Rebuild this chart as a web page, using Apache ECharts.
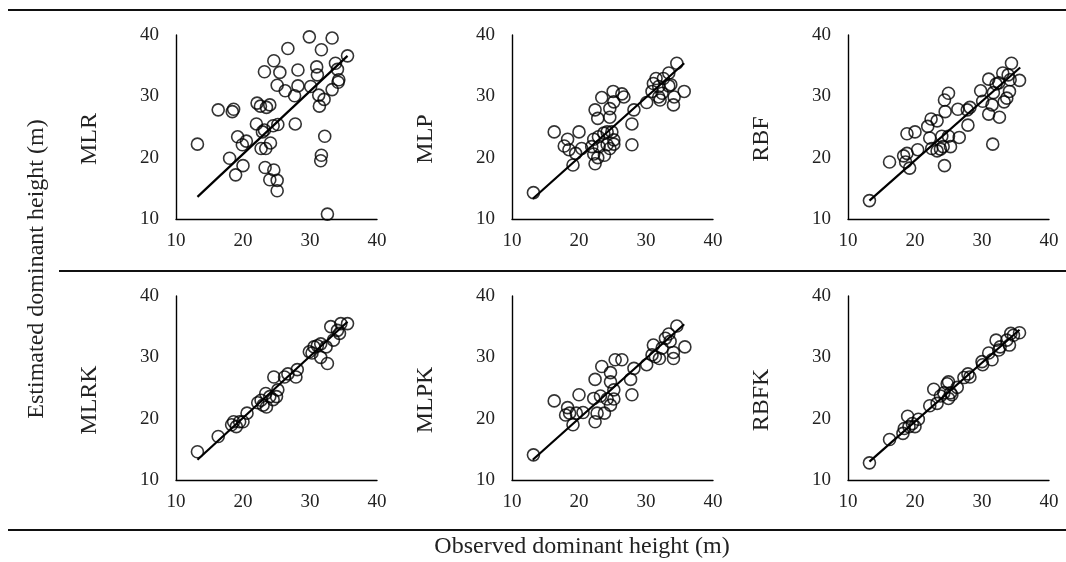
<!DOCTYPE html>
<html>
<head>
<meta charset="utf-8">
<script src="https://cdn.jsdelivr.net/npm/echarts@6/dist/echarts.min.js"></script>
<style>
html,body{margin:0;padding:0;background:#fff}
#chart{width:1066px;height:562px}
</style>
</head>
<body>
<div id="chart"></div>
<script>
// panel names, row by row
const panels=['MLR','MLP','RBF','MLRK','MLPK','RBFK'];
const ticks=[10,20,30,40];

// [observed, estimated] pairs
const mlr=[[13.2,22.2],[16.3,27.8],[18.4,27.5],[18.6,27.9],[18.0,19.9],[18.9,17.2],[20.0,18.7],[19.2,23.4],[20.5,22.7],[19.9,22.1],
 [22.0,25.5],[22.1,28.9],[22.6,28.4],[23.5,28.2],[24.0,28.6],[22.7,21.5],[23.2,24.5],[22.9,24.2],[24.1,22.4],[23.4,21.5],[24.5,25.2],[25.2,25.4],
 [23.2,34.0],[24.6,35.8],[25.5,33.9],[25.1,31.8],[23.3,18.4],[24.6,18.0],[24.0,16.4],[25.1,16.3],[25.1,14.6],[26.7,37.8],[26.3,30.9],
 [27.7,30.1],[28.2,34.3],[28.2,31.7],[27.8,25.5],[29.9,39.7],[30.1,31.6],[31.0,34.8],[31.1,33.5],[31.3,30.2],[31.4,28.4],[31.7,37.6],
 [32.2,23.5],[31.7,20.4],[31.6,19.5],[32.1,29.5],[32.6,10.8],[33.3,39.5],[33.3,31.1],[33.8,35.4],[34.1,34.4],[34.3,32.7],[34.2,32.3],[35.6,36.6]];
const mlp=[[13.2,14.3],[16.3,24.2],[18.3,23.0],[17.8,21.9],[18.5,21.3],[19.1,18.8],[20.0,24.2],[19.5,20.7],[20.4,21.5],[22.4,27.8],[22.8,26.4],
 [23.4,29.8],[25.1,30.8],[26.4,30.4],[26.7,29.9],[24.6,28.0],[24.6,26.6],[25.2,29.1],[22.2,23.0],[22.9,23.4],[23.7,24.0],[24.2,24.2],[24.9,24.2],
 [25.2,22.9],[25.2,22.2],[24.2,22.1],[24.6,21.5],[22.2,20.6],[22.8,20.0],[22.4,19.0],[23.8,20.4],[21.9,21.8],[23.0,21.8],[27.9,25.5],[27.9,22.1],
 [28.2,27.8],[30.1,29.0],[30.9,30.8],[31.1,32.1],[31.5,32.9],[31.9,29.9],[32.1,29.4],[32.4,30.5],[31.9,31.6],[33.4,33.8],[33.4,31.7],[33.7,31.9],
 [34.2,29.9],[34.1,28.6],[34.6,35.4],[35.7,30.8],[32.6,32.9]];
const rbf=[[13.2,13.0],[16.2,19.3],[18.3,20.3],[18.6,19.3],[19.2,18.3],[18.8,23.9],[20.0,24.2],[18.8,20.7],[20.4,21.3],[21.9,25.1],[22.4,26.3],
 [23.3,26.0],[22.2,23.2],[22.5,21.5],[23.3,21.1],[23.8,21.4],[24.0,23.5],[24.2,21.8],[24.4,18.7],[24.4,29.4],[25.0,30.5],[24.5,27.5],[25.0,23.5],
 [25.3,21.8],[26.4,27.9],[26.6,23.3],[27.8,27.8],[27.9,25.3],[28.2,28.2],[29.8,30.9],[30.1,29.2],[31.0,32.8],[31.0,27.1],[31.6,22.2],[31.5,28.6],
 [31.7,30.6],[32.1,32.0],[32.6,26.6],[33.1,33.8],[33.3,29.1],[33.7,29.7],[34.1,30.8],[34.2,32.7],[34.4,35.4],[35.6,32.6],[33.9,33.5],[32.5,32.2]];
const mlrk=[[13.2,14.6],[16.3,17.1],[18.3,19.0],[18.6,19.5],[19.0,18.7],[19.5,19.5],[20.0,19.5],[20.6,20.9],[22.2,22.6],[22.7,23.0],[23.0,22.2],
 [23.5,21.9],[23.4,24.1],[24.0,23.6],[24.5,23.1],[25.0,23.6],[25.2,24.7],[24.6,26.8],[26.2,26.8],[26.7,27.3],[27.9,26.8],[28.1,28.0],[29.9,30.9],
 [30.6,31.7],[31.1,31.9],[31.6,32.2],[31.6,30.0],[32.4,31.7],[32.6,29.0],[33.1,35.0],[33.5,32.8],[34.1,34.4],[34.4,33.9],[34.6,35.5],[35.6,35.5],[30.3,30.7]];
const mlpk=[[13.2,14.1],[16.3,22.9],[18.3,21.8],[18.0,20.6],[18.6,20.9],[19.1,19.0],[20.0,23.9],[19.6,20.9],[20.6,21.0],[22.4,26.4],[23.4,28.5],
 [24.7,27.5],[24.7,26.0],[25.4,29.6],[26.4,29.6],[25.2,24.7],[22.2,23.3],[23.2,23.7],[24.2,23.2],[24.7,22.2],[22.4,19.5],[22.7,20.9],[23.8,20.9],
 [25.2,23.2],[27.7,26.4],[27.9,23.9],[28.2,28.2],[30.1,28.8],[30.9,30.4],[31.1,32.0],[32.0,29.8],[32.4,31.5],[32.9,33.1],[33.4,33.8],[33.6,32.6],
 [34.1,29.8],[34.1,30.8],[34.6,35.1],[35.8,31.7],[31.4,30.1]];
const rbfk=[[13.2,12.8],[16.2,16.6],[18.2,17.6],[18.4,18.4],[18.9,20.4],[19.1,18.7],[19.6,19.2],[20.0,18.7],[20.5,19.9],[22.2,22.1],[22.8,24.8],
 [23.3,22.5],[23.8,23.7],[24.3,24.2],[24.8,25.7],[25.0,26.0],[25.3,24.2],[25.0,23.3],[25.5,23.9],[26.3,25.1],[27.3,26.7],[27.9,27.3],[28.2,26.8],
 [30.0,29.3],[30.1,28.8],[31.0,30.7],[31.5,29.6],[32.1,32.8],[32.5,31.2],[32.7,31.7],[33.7,32.8],[34.1,32.0],[34.3,33.9],[34.7,33.6],[35.6,34.0]];

// trend line end points per panel
const fitMLR=[[13.2,13.6],[35.6,36.6]];
const fitMLP=[[13.1,13.3],[35.7,35.4]];
const fitRBF=[[13.2,13.0],[35.7,34.7]];
const fitMLRK=[[13.2,13.3],[35.6,35.8]];
const fitMLPK=[[13.1,13.3],[35.7,35.4]];
const fitRBFK=[[13.2,13.0],[35.6,34.5]];

const pts=[mlr,mlp,rbf,mlrk,mlpk,rbfk];
const fits=[fitMLR,fitMLP,fitRBF,fitMLRK,fitMLPK,fitRBFK];

const FONT='"Liberation Serif","Times New Roman",serif';
const lefts=[176,512,848], tops=[35,296];

let grid=[],xAxis=[],yAxis=[],series=[];
panels.forEach((p,i)=>{
 let c=i%3,r=Math.floor(i/3);
 grid.push({left:lefts[c],top:tops[r],width:201,height:184});
 xAxis.push({gridIndex:i,type:'value',min:ticks[0],max:ticks[ticks.length-1],interval:10,
  axisLine:{lineStyle:{color:'#000',width:1.4}},axisTick:{show:false},splitLine:{show:false},
  axisLabel:{margin:13,color:'#222',fontFamily:FONT,fontSize:19}});
 yAxis.push({gridIndex:i,type:'value',min:ticks[0],max:ticks[ticks.length-1],interval:10,
  name:p,nameLocation:'middle',nameRotate:90,nameGap:74,
  nameTextStyle:{color:'#222',fontFamily:FONT,fontSize:24,padding:[0,24,0,0]},
  axisLine:{show:true,lineStyle:{color:'#000',width:1.4}},axisTick:{show:false},splitLine:{show:false},
  axisLabel:{margin:17,color:'#222',fontFamily:FONT,fontSize:19}});
 series.push({type:'scatter',xAxisIndex:i,yAxisIndex:i,data:pts[i],symbol:'circle',symbolSize:12,
  itemStyle:{color:'rgba(255,255,255,0)',borderColor:'#000',borderWidth:1.6},silent:true});
 series.push({type:'line',xAxisIndex:i,yAxisIndex:i,data:fits[i],symbol:'none',z:3,
  lineStyle:{color:'#000',width:2.2},silent:true});
});

var chart=echarts.init(document.getElementById('chart'));
chart.setOption({
 animation:false,
 grid:grid,xAxis:xAxis,yAxis:yAxis,series:series,
 graphic:[
  {type:'line',shape:{x1:8,y1:10,x2:1066,y2:10},style:{stroke:'#111',lineWidth:2}},
  {type:'line',shape:{x1:59,y1:271,x2:1066,y2:271},style:{stroke:'#111',lineWidth:2}},
  {type:'line',shape:{x1:8,y1:530,x2:1066,y2:530},style:{stroke:'#111',lineWidth:2}},
  {type:'text',x:37,y:269,rotation:Math.PI/2,
   style:{text:'Estimated dominant height (m)',fill:'#222',font:'24px '+FONT,align:'center',verticalAlign:'middle'}},
  {type:'text',x:582,y:547,
   style:{text:'Observed dominant height (m)',fill:'#222',font:'24px '+FONT,align:'center',verticalAlign:'middle'}}
 ]
});
</script>
</body>
</html>
